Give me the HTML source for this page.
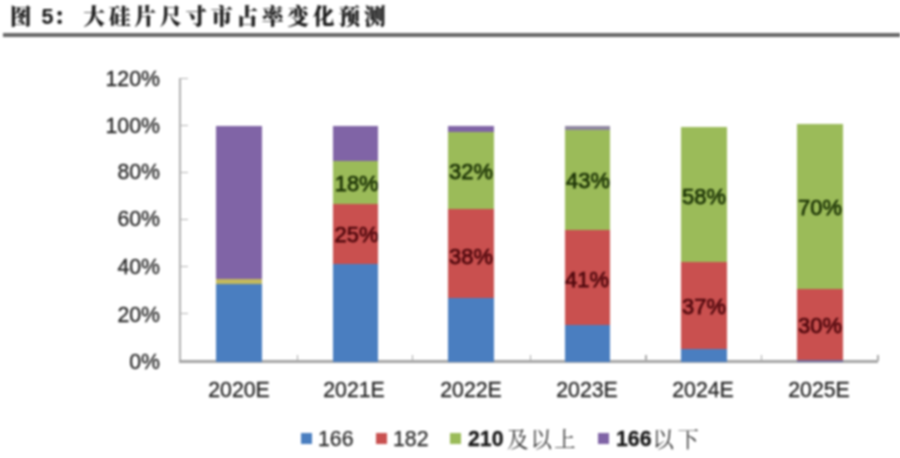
<!DOCTYPE html>
<html lang="zh-CN">
<head>
<meta charset="utf-8">
<title>图 5：大硅片尺寸市占率变化预测</title>
<style>
  html, body { margin: 0; padding: 0; background: #ffffff; }
  body { width: 900px; height: 458px; overflow: hidden; position: relative; }
  #page { position: absolute; left: 0; top: 0; width: 900px; height: 458px; background: #fff; overflow: hidden;
          font-family: "Liberation Sans", "Noto Serif CJK SC", sans-serif; filter: blur(0.8px); }
  .abs { position: absolute; }

  /* title */
  #title { left: 10px; top: 1.6px; height: 30px; line-height: 30px; white-space: nowrap;
           font-family: "Liberation Sans", "Noto Serif CJK SC", serif; font-weight: 900;
           font-size: 21.5px; letter-spacing: 4px; color: #1c1c1c; -webkit-text-stroke: 0.15px #1c1c1c; }
  #title .num { letter-spacing: 0; font-size: 21.5px; }
  #rule { left: 3px; top: 33.1px; width: 897px; height: 4px; background: #686868; }

  /* axes */
  #yaxis { left: 178.8px; top: 78.3px; width: 2.2px; height: 284px; background: #b0b0b0; }
  #xaxis { left: 178.8px; top: 360px; width: 699.7px; height: 2.6px; background: #a6a6a6; }
  .ytick { left: 180px; width: 7.5px; height: 1px; background: #b3b3b3; }
  .xtick { top: 354.5px; width: 1.2px; height: 6.5px; background: #a8a8a8; }

  .ylab { left: 80px; width: 80px; height: 24px; line-height: 24px; text-align: right;
          font-size: 21.3px; color: #242424; -webkit-text-stroke: 0.3px #242424; white-space: nowrap; }
  .xlab { top: 378px; width: 116px; height: 24px; line-height: 24px; text-align: center;
          font-size: 21.3px; color: #242424; -webkit-text-stroke: 0.3px #242424; white-space: nowrap; }

  /* bars */
  .seg { width: 45.6px; }
  .b { background: #4a7ec0; }
  .r { background: #c9504f; }
  .g { background: #9bbb59; }
  .p { background: #8064a6; }
  .dl { width: 60px; height: 24px; line-height: 24px; text-align: center; font-size: 21.9px; -webkit-text-stroke: 0.75px currentColor;
        white-space: nowrap; }
  .dl.on-g { color: #1c3306; }
  .dl.on-r { color: #4f080d; }

  /* legend */
  .lsq { top: 433.3px; width: 10.4px; height: 10.4px; margin-left: 0.3px; }
  .ltx { top: 426px; height: 26px; line-height: 26px; font-size: 21.3px; color: #2a2a2a; -webkit-text-stroke: 0.25px #2a2a2a; white-space: nowrap; }
  .ltx.cjk { font-family: "Noto Serif CJK SC", serif; font-size: 21.4px; font-weight: 400; color: #333; -webkit-text-stroke: 0; top: 423px; height: 30px; line-height: 30px; }
  .ltx b { font-weight: 700; color: #161616; -webkit-text-stroke: 0.3px #161616; }
</style>
</head>
<body>
<div id="page">
  <div id="title" class="abs">图<span class="num"> 5</span><span style="letter-spacing:8.5px">：</span>大硅片尺寸市占率变化预测</div>
  <div id="rule" class="abs"></div>

  <!-- y axis labels -->
  <div class="abs ylab" style="top:67px">120%</div>
  <div class="abs ylab" style="top:114px">100%</div>
  <div class="abs ylab" style="top:160px">80%</div>
  <div class="abs ylab" style="top:207px">60%</div>
  <div class="abs ylab" style="top:255px">40%</div>
  <div class="abs ylab" style="top:302.8px">20%</div>
  <div class="abs ylab" style="top:349.8px">0%</div>

  <!-- axes -->
  <div id="yaxis" class="abs"></div>
  <div class="abs ytick" style="top:78.2px"></div>
  <div class="abs ytick" style="top:125.1px"></div>
  <div class="abs ytick" style="top:172.1px"></div>
  <div class="abs ytick" style="top:219px"></div>
  <div class="abs ytick" style="top:266px"></div>
  <div class="abs ytick" style="top:313.2px"></div>

  <div id="xaxis" class="abs"></div>

  <!-- 2020E -->
  <div class="abs seg p" style="left:216px; top:126px; height:153px"></div>
  <div class="abs seg"   style="left:216px; top:278.5px; height:6px; background:#c2b95e"></div>
  <div class="abs seg b" style="left:216px; top:284px; height:77.8px"></div>

  <!-- 2021E -->
  <div class="abs seg p" style="left:332.7px; top:126px; height:35px"></div>
  <div class="abs seg g" style="left:332.7px; top:161px; height:43.4px"></div>
  <div class="abs seg r" style="left:332.7px; top:204.4px; height:59.6px"></div>
  <div class="abs seg b" style="left:332.7px; top:264px; height:97.8px"></div>
  <div class="abs dl on-g" style="left:326.7px; top:171.6px">18%</div>
  <div class="abs dl on-r" style="left:326.5px; top:223.3px">25%</div>

  <!-- 2022E -->
  <div class="abs seg p" style="left:448px; top:126px; height:6px"></div>
  <div class="abs seg g" style="left:448px; top:132px; height:77px"></div>
  <div class="abs seg r" style="left:448px; top:209px; height:88.5px"></div>
  <div class="abs seg b" style="left:448px; top:297.5px; height:64.3px"></div>
  <div class="abs dl on-g" style="left:441px; top:159.7px">32%</div>
  <div class="abs dl on-r" style="left:441px; top:244.7px">38%</div>

  <!-- 2023E -->
  <div class="abs seg"   style="left:564.6px; top:126px; height:4px; background:#8f86a0"></div>
  <div class="abs seg g" style="left:564.6px; top:130px; height:100px"></div>
  <div class="abs seg r" style="left:564.6px; top:230px; height:95.4px"></div>
  <div class="abs seg b" style="left:564.6px; top:325.4px; height:36.4px"></div>
  <div class="abs dl on-g" style="left:558px; top:168.5px">43%</div>
  <div class="abs dl on-r" style="left:557px; top:268px">41%</div>

  <!-- 2024E -->
  <div class="abs seg g" style="left:681px; top:127px; height:135.4px"></div>
  <div class="abs seg r" style="left:681px; top:262.4px; height:86.6px"></div>
  <div class="abs seg b" style="left:681px; top:349px; height:12.8px"></div>
  <div class="abs dl on-g" style="left:674px; top:184.5px">58%</div>
  <div class="abs dl on-r" style="left:674px; top:295px">37%</div>

  <!-- 2025E -->
  <div class="abs seg g" style="left:797px; top:124px; height:165px"></div>
  <div class="abs seg r" style="left:797px; top:289px; height:71px"></div>
  <div class="abs seg" style="left:797px; top:360px; height:1.8px; background:#6f6da0"></div>
  <div class="abs dl on-g" style="left:790px; top:196px">70%</div>
  <div class="abs dl on-r" style="left:790px; top:314px">30%</div>

  <!-- x axis -->
  <div class="abs xtick" style="left:296.5px"></div>
  <div class="abs xtick" style="left:412px"></div>
  <div class="abs xtick" style="left:529.7px"></div>
  <div class="abs xtick" style="left:645.4px"></div>
  <div class="abs xtick" style="left:760.6px"></div>
  <div class="abs xtick" style="left:877.4px"></div>

  <div class="abs xlab" style="left:181px">2020E</div>
  <div class="abs xlab" style="left:296px">2021E</div>
  <div class="abs xlab" style="left:413px">2022E</div>
  <div class="abs xlab" style="left:529px">2023E</div>
  <div class="abs xlab" style="left:645px">2024E</div>
  <div class="abs xlab" style="left:761px">2025E</div>

  <!-- legend -->
  <div class="abs lsq b" style="left:301px"></div>
  <div class="abs ltx" style="left:318px">166</div>
  <div class="abs lsq r" style="left:376px"></div>
  <div class="abs ltx" style="left:393px">182</div>
  <div class="abs lsq g" style="left:450px"></div>
  <div class="abs ltx" style="left:468px"><b>210</b></div>
  <div class="abs ltx cjk" style="left:507px; letter-spacing:2.2px">及以上</div>
  <div class="abs lsq p" style="left:598px"></div>
  <div class="abs ltx" style="left:616px"><b>166</b></div>
  <div class="abs ltx cjk" style="left:652.5px; letter-spacing:3.6px">以下</div>
</div>
</body>
</html>
